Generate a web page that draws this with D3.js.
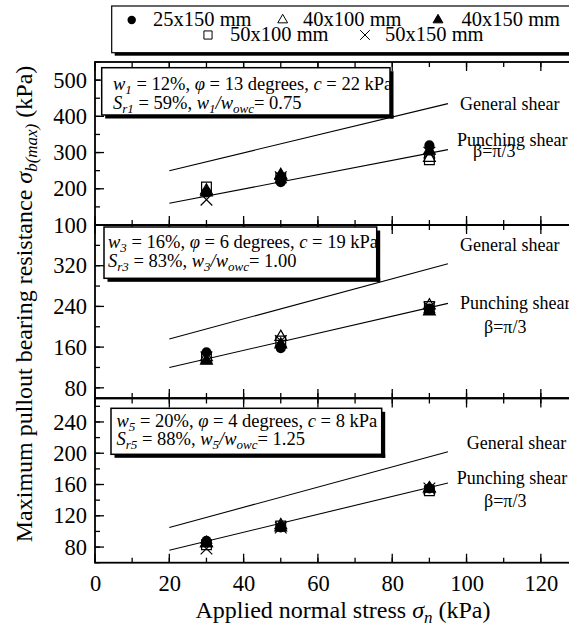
<!DOCTYPE html>
<html><head><meta charset="utf-8">
<script src="https://cdn.jsdelivr.net/npm/d3@7"></script>
<style>
body{margin:0;background:#fff}
svg{display:block;font-family:"Liberation Serif","Times New Roman",serif}
</style>
</head><body>
<svg id="chart" width="569" height="627"></svg>
<script>
// ---------- data ----------
const normalStress = [30, 50, 90];
const specimenNames = ["25x150 mm", "40x100 mm", "40x150 mm", "50x100 mm", "50x150 mm"];
const xTicksMajor = [0, 20, 40, 60, 80, 100, 120];
const lineStress = [20, 95];

// panel 1 (w1 = 12%)
const p1_25x150 = [190, 218, 320];
const p1_40x100 = [195, 238, 285];
const p1_40x150 = [190, 235, 305];
const p1_50x100 = [205, 230, 280];
const p1_50x150 = [170, 232, 300];
const p1General = [250, 435];
const p1Punching = [160, 308];
const p1Ticks = [100, 200, 300, 400, 500];

// panel 2 (w3 = 16%)
const p2_25x150 = [150, 158, 236];
const p2_40x100 = [140, 180, 242];
const p2_40x150 = [133, 165, 230];
const p2_50x100 = [140, 172, 240];
const p2_50x150 = [140, 172, 238];
const p2General = [176, 324];
const p2Punching = [120, 246];
const p2Ticks = [80, 160, 240, 320];

// panel 3 (w5 = 20%)
const p3_25x150 = [88, 105, 155];
const p3_40x100 = [85, 108, 155];
const p3_40x150 = [85, 105, 155];
const p3_50x100 = [83, 107, 152];
const p3_50x150 = [78, 105, 155];
const p3General = [105, 202];
const p3Punching = [76, 162];
const p3Ticks = [80, 120, 160, 200, 240];

// ---------- drawing ----------
const svg = d3.select("#chart");
const FONT = '"Liberation Serif","Times New Roman",serif';
const x = d3.scaleLinear().domain([0, 130]).range([95, 578]);

const symbolDefs = [
  {type: d3.symbolCircle, size: 80, fill: "#000", stroke: "none"},
  {type: d3.symbolTriangle, size: 60, fill: "none", stroke: "#000"},
  {type: d3.symbolTriangle, size: 60, fill: "#000", stroke: "#000"},
  {type: d3.symbolSquare, size: 95, fill: "none", stroke: "#000"},
  {type: d3.symbolTimes || d3.symbolX, size: 90, fill: "none", stroke: "#000"}
];

const panels = [
  {domain: [100, 550], range: [225, 62], ticks: p1Ticks, minorStep: 50,
   series: [p1_25x150, p1_40x100, p1_40x150, p1_50x100, p1_50x150],
   general: p1General, punching: p1Punching,
   labels: {g: [460, 110], p: [457, 146], b: [473, 157]},
   box: {bx: 101.7, by: 67.7, bw: 288.3, bh: 47.3, tx: 113, b1: 89.5, b2: 108.5,
         n: "1", wc: "12%", phi: "13", c: "22", sr: "59%", ratio: "0.75"}},
  {domain: [60, 400], range: [398, 225], ticks: p2Ticks, minorStep: 40,
   series: [p2_25x150, p2_40x100, p2_40x150, p2_50x100, p2_50x150],
   general: p2General, punching: p2Punching,
   labels: {g: [460, 251], p: [460, 309], b: [484, 333]},
   box: {bx: 104, by: 227, bw: 272.7, bh: 51.3, tx: 108, b1: 248, b2: 266.5,
         n: "3", wc: "16%", phi: "6", c: "19", sr: "83%", ratio: "1.00"}},
  {domain: [60, 270], range: [562.7, 398.5], ticks: p3Ticks, minorStep: 20,
   series: [p3_25x150, p3_40x100, p3_40x150, p3_50x100, p3_50x150],
   general: p3General, punching: p3Punching,
   labels: {g: [466.7, 449], p: [456.7, 484], b: [484, 507]},
   box: {bx: 111, by: 408.3, bw: 270.7, bh: 46, tx: 116.5, b1: 426.5, b2: 445,
         n: "5", wc: "20%", phi: "4", c: "8", sr: "88%", ratio: "1.25"}}
];

const xMinor = d3.range(0, 131, 10);

function vLines(g, vals, y0, y1) {
  g.selectAll(null).data(vals).enter().append("line")
    .attr("x1", d => x(d)).attr("x2", d => x(d)).attr("y1", y0).attr("y2", y1)
    .attr("stroke", "#000").attr("stroke-width", 1.3);
}
function hLines(g, vals, scale, x0, x1) {
  g.selectAll(null).data(vals).enter().append("line")
    .attr("x1", x0).attr("x2", x1).attr("y1", d => scale(d)).attr("y2", d => scale(d))
    .attr("stroke", "#000").attr("stroke-width", 1.3);
}
function shadowBox(g, bx, by, bw, bh, off, sw) {
  g.append("rect").attr("x", bx + bw).attr("y", by + off).attr("width", off).attr("height", bh).attr("fill", "#000");
  g.append("rect").attr("x", bx + off).attr("y", by + bh).attr("width", bw).attr("height", off).attr("fill", "#000");
  g.append("rect").attr("x", bx).attr("y", by).attr("width", bw).attr("height", bh)
    .attr("fill", "#fff").attr("stroke", "#000").attr("stroke-width", sw);
}

panels.forEach((p) => {
  const y = d3.scaleLinear().domain(p.domain).range(p.range);
  const g = svg.append("g");
  const [yBot, yTop] = p.range;
  const yMinor = d3.range(Math.ceil(p.domain[0] / p.minorStep) * p.minorStep, p.domain[1] + 0.1, p.minorStep);
  const yMajorAll = d3.range(Math.ceil(p.domain[0] / (p.minorStep * 2)) * p.minorStep * 2, p.domain[1] + 0.1, p.minorStep * 2);

  const left = g.append("g").attr("transform", `translate(${x(0)},0)`)
    .call(d3.axisLeft(y).tickValues(p.ticks).tickSize(0).tickPadding(8));
  left.select(".domain").remove();
  left.selectAll("text").style("font-family", FONT).style("font-size", "22.5px").attr("fill", "#000");

  hLines(g, yMajorAll, y, x(0), x(0) + 9);
  hLines(g, yMinor, y, x(0), x(0) + 5);
  hLines(g, yMajorAll, y, x(130), x(130) - 9);
  vLines(g, xTicksMajor, yBot, yBot - 9);
  vLines(g, xMinor, yBot, yBot - 5);
  vLines(g, xTicksMajor, yTop, yTop + 9);
  vLines(g, xMinor, yTop, yTop + 5);

  g.append("rect").attr("x", x(0)).attr("y", yTop).attr("width", x(130) - x(0)).attr("height", yBot - yTop)
    .attr("fill", "none").attr("stroke", "#000").attr("stroke-width", 1.8);

  const line = d3.line().x((d, i) => x(lineStress[i])).y(d => y(d));
  [p.general, p.punching].forEach(vals => {
    g.append("path").datum(vals).attr("d", line).attr("fill", "none").attr("stroke", "#000").attr("stroke-width", 1.1);
  });

  p.series.forEach((vals, si) => {
    const s = symbolDefs[si];
    g.selectAll(null).data(vals).enter().append("path")
      .attr("transform", (d, i) => `translate(${x(normalStress[i])},${y(d)})`)
      .attr("d", d3.symbol().type(s.type).size(s.size))
      .attr("fill", s.fill).attr("stroke", s.stroke).attr("stroke-width", 1.2);
  });

  const lab = g.append("g").style("font-family", FONT).style("font-size", "18px");
  lab.append("text").attr("x", p.labels.g[0]).attr("y", p.labels.g[1]).text("General shear");
  lab.append("text").attr("x", p.labels.p[0]).attr("y", p.labels.p[1]).text("Punching shear");
  lab.append("text").attr("x", p.labels.b[0]).attr("y", p.labels.b[1]).text("β=π/3");

  const b = p.box;
  shadowBox(g, b.bx, b.by, b.bw, b.bh, 3.5, 1.5);
  const t1 = g.append("text").attr("x", b.tx).attr("y", b.b1).style("font-family", FONT).style("font-size", "18.5px");
  t1.append("tspan").attr("font-style", "italic").text("w");
  t1.append("tspan").attr("font-style", "italic").attr("font-size", "13px").attr("dy", 4).text(b.n);
  t1.append("tspan").attr("dy", -4).text(" = " + b.wc + ", ");
  t1.append("tspan").attr("font-style", "italic").text("φ");
  t1.append("tspan").text(" = " + b.phi + " degrees, ");
  t1.append("tspan").attr("font-style", "italic").text("c");
  t1.append("tspan").text(" = " + b.c + " kPa");
  const t2 = g.append("text").attr("x", b.tx).attr("y", b.b2).style("font-family", FONT).style("font-size", "18.5px");
  t2.append("tspan").attr("font-style", "italic").text("S");
  t2.append("tspan").attr("font-style", "italic").attr("font-size", "13px").attr("dy", 4).text("r" + b.n);
  t2.append("tspan").attr("dy", -4).text(" = " + b.sr + ",  ");
  t2.append("tspan").attr("font-style", "italic").text("w");
  t2.append("tspan").attr("font-style", "italic").attr("font-size", "13px").attr("dy", 4).text(b.n);
  t2.append("tspan").attr("font-style", "italic").attr("dy", -4).text("/w");
  t2.append("tspan").attr("font-style", "italic").attr("font-size", "13px").attr("dy", 4).text("owc");
  t2.append("tspan").attr("dy", -4).text("= " + b.ratio);
});

const xl = svg.append("g").attr("transform", "translate(0,562.7)")
  .call(d3.axisBottom(x).tickValues(xTicksMajor).tickSize(0).tickPadding(12.5));
xl.select(".domain").remove();
xl.selectAll("text").style("font-family", FONT).style("font-size", "22.5px").attr("fill", "#000");

const xt = svg.append("text").attr("x", 343).attr("y", 617.5).attr("text-anchor", "middle")
  .style("font-family", FONT).style("font-size", "24px");
xt.append("tspan").text("Applied normal stress ");
xt.append("tspan").attr("font-style", "italic").text("σ");
xt.append("tspan").attr("font-style", "italic").attr("font-size", "17px").attr("dy", 5).text("n");
xt.append("tspan").attr("dy", -5).text(" (kPa)");

const yt = svg.append("text").attr("transform", "translate(31.5,304) rotate(-90)").attr("text-anchor", "middle")
  .style("font-family", FONT).style("font-size", "24px");
yt.append("tspan").text("Maximum pullout bearing resistance ");
yt.append("tspan").attr("font-style", "italic").text("σ");
yt.append("tspan").attr("font-style", "italic").attr("font-size", "17px").attr("dy", 5).text("b(max)");
yt.append("tspan").attr("dy", -5).text(" (kPa)");

const lg = svg.append("g");
shadowBox(lg, 111.7, 6, 470, 46.7, 3, 1.2);
const legendPos = [[131.7, 26, 153], [282.7, 26, 303], [438, 26, 461.5], [208, 41, 230], [365, 41, 385]];
specimenNames.forEach((name, i) => {
  const s = symbolDefs[i];
  const [mx, by, tx] = legendPos[i];
  lg.append("path").attr("transform", `translate(${mx},${by - 6})`)
    .attr("d", d3.symbol().type(s.type).size(s.size * 0.7))
    .attr("fill", s.fill).attr("stroke", s.stroke).attr("stroke-width", 1);
  lg.append("text").attr("x", tx).attr("y", by).style("font-family", FONT).style("font-size", "20.5px").text(name);
});
</script>
</body></html>
